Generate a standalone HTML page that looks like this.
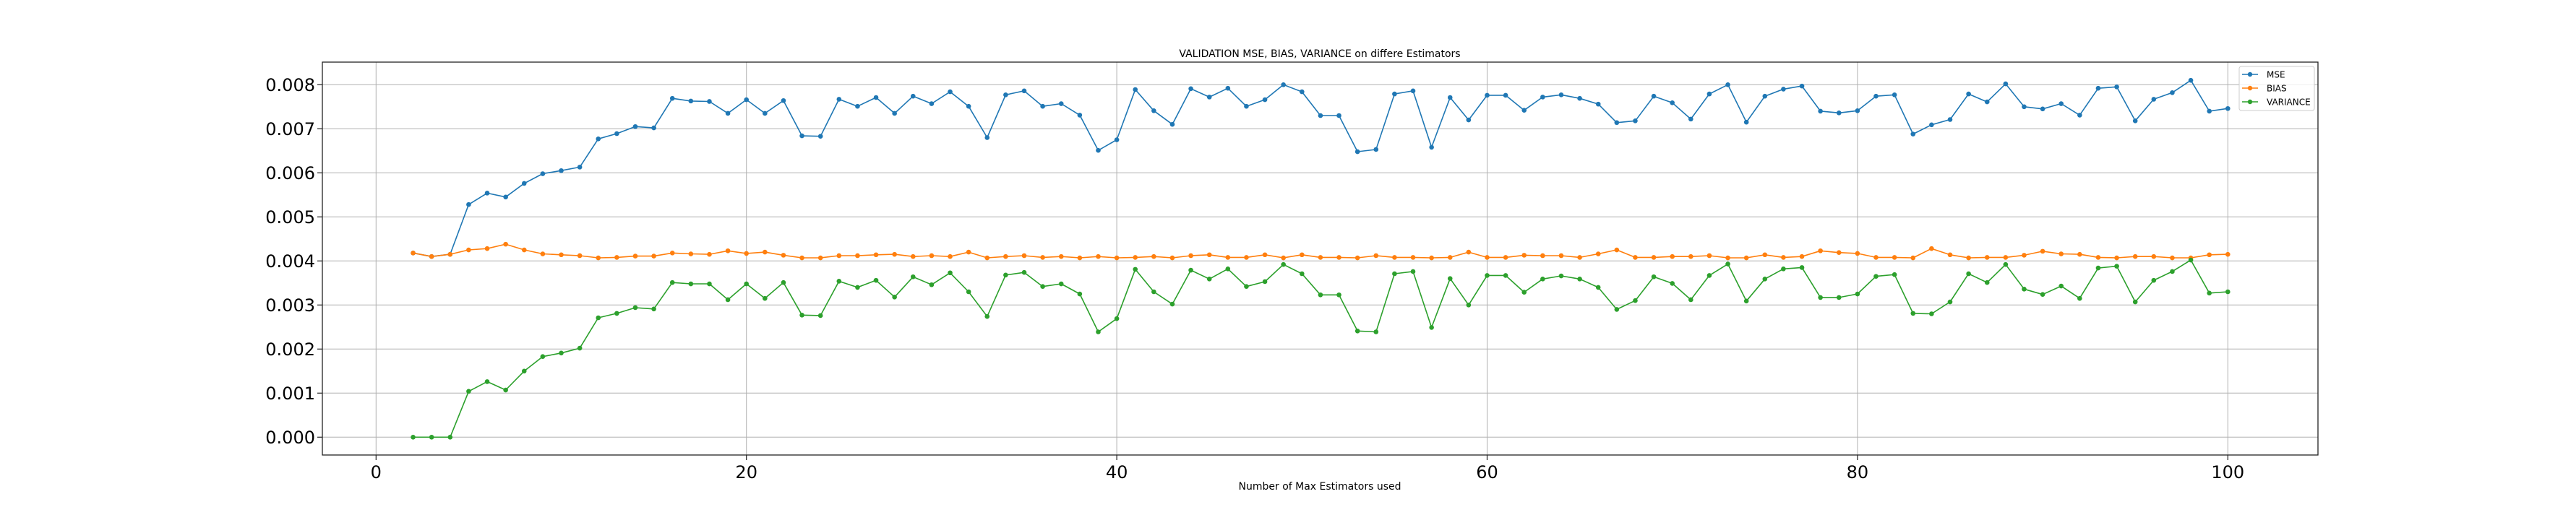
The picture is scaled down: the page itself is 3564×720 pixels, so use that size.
<!DOCTYPE html>
<html><head><meta charset="utf-8"><style>
html,body{margin:0;padding:0;background:#fff;}
svg{display:block;font-family:"DejaVu Sans","Liberation Sans",sans-serif;}
</style></head><body>
<svg id="chart" width="3564" height="720" viewBox="0 0 3564 720" xmlns="http://www.w3.org/2000/svg">
<rect x="0" y="0" width="3564" height="720" fill="#fff"/>
<g id="grid"></g>
<g id="series"></g>
<rect x="446" y="86" width="2761" height="544" fill="none" stroke="#222" stroke-width="1.3"/>
<g id="ticks"></g>
<text x="1826" y="79" text-anchor="middle" font-size="14" fill="#000">VALIDATION MSE, BIAS, VARIANCE on differe Estimators</text>
<text x="1826" y="678" text-anchor="middle" font-size="14" fill="#000">Number of Max Estimators used</text>
<g>
<rect x="3098" y="92" width="104" height="61" rx="3" fill="#fff" fill-opacity="0.8" stroke="#ccc"/>
<g><line x1="3102" y1="103" x2="3124" y2="103" stroke="#1f77b4" stroke-width="1.5"/><circle cx="3113" cy="103" r="3.2" fill="#1f77b4"/><text x="3136" y="107.5" font-size="12">MSE</text></g>
<g><line x1="3102" y1="122" x2="3124" y2="122" stroke="#ff7f0e" stroke-width="1.5"/><circle cx="3113" cy="122" r="3.2" fill="#ff7f0e"/><text x="3136" y="126.5" font-size="12">BIAS</text></g>
<g><line x1="3102" y1="141" x2="3124" y2="141" stroke="#2ca02c" stroke-width="1.5"/><circle cx="3113" cy="141" r="3.2" fill="#2ca02c"/><text x="3136" y="145.5" font-size="12">VARIANCE</text></g>
</g>
</svg>
<script>
const xValues = [2,3,4,5,6,7,8,9,10,11,12,13,14,15,16,17,18,19,20,21,22,23,24,25,26,27,28,29,30,31,32,33,34,35,36,37,38,39,40,41,42,43,44,45,46,47,48,49,50,51,52,53,54,55,56,57,58,59,60,61,62,63,64,65,66,67,68,69,70,71,72,73,74,75,76,77,78,79,80,81,82,83,84,85,86,87,88,89,90,91,92,93,94,95,96,97,98,99,100];
const mseValues = [4.18,4.10,4.15,5.28,5.54,5.45,5.76,5.98,6.05,6.13,6.77,6.89,7.05,7.02,7.69,7.63,7.62,7.35,7.66,7.35,7.64,6.84,6.83,7.67,7.51,7.71,7.35,7.74,7.57,7.84,7.51,6.80,7.77,7.86,7.51,7.57,7.31,6.51,6.75,7.89,7.41,7.10,7.91,7.72,7.92,7.51,7.66,8.00,7.84,7.30,7.30,6.48,6.53,7.79,7.86,6.58,7.71,7.20,7.76,7.76,7.42,7.72,7.77,7.69,7.56,7.14,7.18,7.74,7.59,7.22,7.79,8.00,7.15,7.74,7.90,7.97,7.40,7.36,7.41,7.74,7.77,6.88,7.09,7.21,7.79,7.61,8.02,7.50,7.45,7.57,7.31,7.92,7.95,7.18,7.67,7.82,8.10,7.40,7.46];
const biasValues = [4.18,4.10,4.15,4.25,4.28,4.38,4.25,4.16,4.14,4.12,4.07,4.08,4.11,4.11,4.18,4.16,4.15,4.23,4.17,4.20,4.13,4.07,4.07,4.12,4.12,4.14,4.15,4.10,4.12,4.10,4.20,4.07,4.10,4.12,4.08,4.10,4.07,4.10,4.07,4.08,4.10,4.07,4.12,4.14,4.08,4.08,4.14,4.07,4.14,4.08,4.08,4.07,4.12,4.08,4.08,4.07,4.08,4.20,4.08,4.08,4.13,4.12,4.12,4.08,4.16,4.25,4.08,4.08,4.10,4.10,4.12,4.07,4.07,4.14,4.08,4.10,4.23,4.19,4.17,4.08,4.08,4.07,4.28,4.14,4.07,4.08,4.08,4.13,4.22,4.16,4.15,4.08,4.07,4.10,4.10,4.07,4.07,4.14,4.15];
const varianceValues = [0,0,0,1.04,1.26,1.07,1.50,1.83,1.91,2.02,2.71,2.81,2.94,2.91,3.51,3.48,3.48,3.12,3.48,3.15,3.51,2.77,2.76,3.54,3.40,3.56,3.18,3.64,3.46,3.73,3.30,2.74,3.68,3.74,3.42,3.48,3.25,2.39,2.69,3.81,3.30,3.02,3.79,3.59,3.82,3.42,3.53,3.92,3.71,3.23,3.23,2.41,2.39,3.71,3.76,2.49,3.60,3.00,3.67,3.67,3.29,3.59,3.66,3.59,3.40,2.90,3.10,3.64,3.49,3.12,3.67,3.93,3.09,3.59,3.82,3.85,3.17,3.17,3.25,3.65,3.69,2.81,2.80,3.07,3.71,3.51,3.92,3.36,3.24,3.43,3.15,3.84,3.88,3.07,3.56,3.76,4.02,3.27,3.30];
const xTicks = [0,20,40,60,80,100];
const yTicks = [0,1,2,3,4,5,6,7,8];
const yTickLabels = ["0.000","0.001","0.002","0.003","0.004","0.005","0.006","0.007","0.008"];

const NS = "http://www.w3.org/2000/svg";
const L = 446, R = 3207, T = 86, B = 630;
function xs(v){ return 520.3 + v * 25.62; }
function ys(v){ return 605.3 - v * 61; }
function mk(tag, attrs, parent){ const e = document.createElementNS(NS, tag); for (const k in attrs) e.setAttribute(k, attrs[k]); parent.appendChild(e); return e; }
const grid = document.getElementById('grid');
const ticks = document.getElementById('ticks');
const seriesG = document.getElementById('series');

xTicks.forEach(function(t){
  const x = xs(t);
  const g = mk('line', {x1:x, y1:T, x2:x, y2:B, stroke:'#b0b0b0', 'stroke-width':1}, grid);
  
  
  const tk = mk('line', {x1:x, y1:B, x2:x, y2:B+7, stroke:'#222', 'stroke-width':1.2}, ticks);
  
  
  const lb = mk('text', {x:x, y:B+32, 'text-anchor':'middle', 'font-size':24, fill:'#000'}, ticks);
  lb.textContent = String(t);
  
  
});
yTicks.forEach(function(t, i){
  const y = ys(t);
  const g = mk('line', {x1:L, y1:y, x2:R, y2:y, stroke:'#b0b0b0', 'stroke-width':1}, grid);
  
  
  const tk = mk('line', {x1:L-7, y1:y, x2:L, y2:y, stroke:'#222', 'stroke-width':1.2}, ticks);
  
  
  const lb = mk('text', {x:L-10, y:y+8.5, 'text-anchor':'end', 'font-size':24, fill:'#000'}, ticks);
  lb.textContent = yTickLabels[i];
  
  
});

function drawSeries(vals, color, name){
  const g = mk('g', {}, seriesG);
  
  
  const pts = vals.map(function(v, i){ return xs(xValues[i]).toFixed(1) + ',' + ys(v).toFixed(1); }).join(' ');
  const pl = mk('polyline', {points:pts, fill:'none', stroke:color, 'stroke-width':1.6, 'stroke-linejoin':'round'}, g);
  
  
  vals.forEach(function(v, i){
    const c = mk('circle', {cx:xs(xValues[i]), cy:ys(v), r:3.3, fill:color}, g);
    
    
  });
}
drawSeries(mseValues, '#1f77b4', 'mse');
drawSeries(biasValues, '#ff7f0e', 'bias');
drawSeries(varianceValues, '#2ca02c', 'variance');
</script>
</body></html>
